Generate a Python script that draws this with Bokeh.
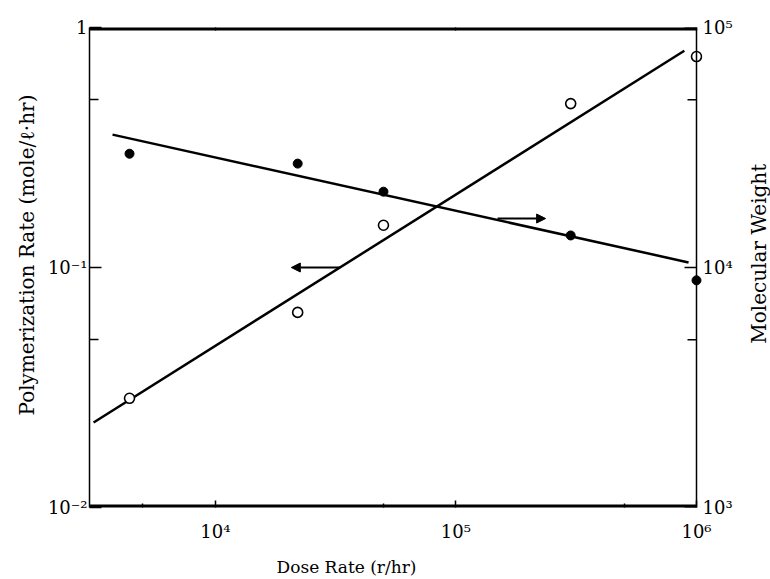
import math
from bokeh.plotting import figure
from bokeh.layouts import row, column
from bokeh.models import Range1d, LogAxis, FixedTicker, Arrow, NormalHead, Title, Span
from bokeh.core.properties import value
from bokeh.embed import file_html
from bokeh.resources import INLINE

# ---------------- data ----------------
dose_rate = [4.4e3, 2.2e4, 5.0e4, 3.0e5, 1.0e6]          # r/hr
poly_rate = [0.0285, 0.065, 0.150, 0.482, 0.757]         # mole/l.hr (open circles, left axis)
mol_weight = [29800, 27100, 20700, 13600, 8840]          # (filled circles, right axis)

rate_fit_x = [3.12e3, 8.9e5]
rate_fit_y = [0.0226, 0.80]
mw_fit_x = [3.74e3, 9.27e5]
mw_fit_y = [35800, 10500]

# arrows: (x_start, x_end, y) in left-axis units
arrow_left = [3.31e4, 2.07e4, 0.10]
arrow_right = [1.49e5, 2.36e5, 0.16]

x_ticks = [1e4, 1e5, 1e6]
x_minor = [5e3, 5e4, 5e5]
x_tick_labels = ["10⁴", "10⁵", "10⁶"]
left_ticks = [0.01, 0.1, 1.0]
left_minor = [0.05, 0.5]
left_tick_labels = ["10⁻²", "10⁻¹", "1"]
right_ticks = [1e3, 1e4, 1e5]
right_minor = [5e3, 5e4]
right_tick_labels = ["10³", "10⁴", "10⁵"]

x_title = "Dose Rate (r/hr)"
left_title = "Polymerization Rate (mole/ℓ·hr)"
right_title = "Molecular Weight"

X0, X1 = 3.0e3, 1.0e6          # x extent of the drawn box
Y0, Y1 = 0.01, 1.0
M0, M1 = 1e3, 1e5

# ---------------- layout ----------------
W, H = 770, 579
MAIN_W, MAIN_H = 744, 556
FL, FT, FB = 89, 27, 507
BOX_R = 696                    # pixel of the right box line (x = X1)
PAD_R = 6                      # frame extends a little past the box so edge markers are not cut
EPS = 1.0005
X_END = 10 ** (math.log10(X1) + PAD_R / (BOX_R - FL) * (math.log10(X1) - math.log10(X0)))
FR = BOX_R + PAD_R
YS, YE = Y0 / EPS, Y1 * EPS

FONT = "DejaVu Serif"

p = figure(width=MAIN_W, height=MAIN_H, output_backend="svg", toolbar_location=None,
           x_axis_type="log", y_axis_type="log",
           x_range=Range1d(X0, X_END), y_range=Range1d(YS, YE),
           min_border_left=FL, min_border_right=MAIN_W - FR,
           min_border_top=FT, min_border_bottom=MAIN_H - FB,
           background_fill_color="white", border_fill_color="white")
p.outline_line_color = None
p.grid.visible = False
p.extra_y_ranges = {"mw": Range1d(M0 / EPS, M1 * EPS)}


def style_axis(ax, ticks, minor, labels, lw, major_in, minor_in):
    ax.ticker = FixedTicker(ticks=ticks, minor_ticks=minor)
    ax.major_label_overrides = {t: l for t, l in zip(ticks, labels)}
    ax.axis_line_width = lw
    ax.axis_line_color = "black"
    ax.major_tick_in = major_in
    ax.major_tick_out = 0
    ax.minor_tick_in = minor_in
    ax.minor_tick_out = 0
    ax.major_tick_line_width = 1.5
    ax.minor_tick_line_width = 1.5
    ax.major_tick_line_color = "black"
    ax.minor_tick_line_color = "black"
    ax.major_label_text_font = FONT
    ax.major_label_text_font_size = "18px"
    ax.major_label_text_color = "black"


# bottom axis (its line is drawn below as a segment ending at x = X1)
xa = p.xaxis[0]
style_axis(xa, x_ticks, x_minor, x_tick_labels, 3, 7, 4)
xa.axis_line_color = None
xa.major_label_standoff = 13

# left axis
ya = p.yaxis[0]
style_axis(ya, left_ticks, left_minor, left_tick_labels, 1.5, 12, 9)
ya.major_label_standoff = 2

# right axis (labels only; its line and ticks are drawn at x = X1 below)
ra = LogAxis(y_range_name="mw")
style_axis(ra, right_ticks, right_minor, right_tick_labels, 1.5, 0, 0)
ra.axis_line_color = None
ra.major_tick_line_color = None
ra.minor_tick_line_color = None
ra.major_label_standoff = 0
p.add_layout(ra, "right")

# top axis (small ticks only)
ta = LogAxis()
style_axis(ta, x_ticks, x_minor, ["", "", ""], 3, 3, 0)
ta.axis_line_color = None
ta.major_label_text_font_size = "0px"
p.add_layout(ta, "above")

# left title as a side-panel title (shifted up along the side)
p.add_layout(Title(text=left_title, align="left", offset=92,
                   standoff=11, text_font=FONT, text_font_size="20px",
                   text_font_style="normal", text_color="black"), "left")

# box: thick top and bottom lines ending at X1, thin right line with inward ticks
p.segment(x0=[X0, X0], y0=[YS, YE], x1=[X1, X1], y1=[YS, YE],
          line_color="black", line_width=6)
p.add_layout(Span(location=X1, dimension="height", line_color="black", line_width=1.5))
p.ray(x=[X1] * len(right_ticks), y=right_ticks, length=12, length_units="screen",
      angle=math.pi, line_color="black", line_width=1.5, y_range_name="mw")
p.ray(x=[X1] * len(right_minor), y=right_minor, length=9, length_units="screen",
      angle=math.pi, line_color="black", line_width=1.5, y_range_name="mw")

# ---------------- fitted lines ----------------
p.line(rate_fit_x, rate_fit_y, line_color="black", line_width=2.5)
p.line(mw_fit_x, mw_fit_y, line_color="black", line_width=2.5, y_range_name="mw")

# ---------------- data points ----------------
p.scatter(dose_rate, poly_rate, marker="circle", size=10,
          fill_color="white", line_color="black", line_width=1.6)
p.scatter(dose_rate, mol_weight, marker="circle", size=9,
          fill_color="black", line_color="black", y_range_name="mw")

# ---------------- arrows ----------------
for a in (arrow_left, arrow_right):
    p.add_layout(Arrow(end=NormalHead(size=9, fill_color="black", line_color="black"),
                       x_start=a[0], y_start=a[2], x_end=a[1], y_end=a[2],
                       line_color="black", line_width=2))


# ---------------- strips holding the right and bottom titles ----------------
def strip(w, h):
    s = figure(width=w, height=h, output_backend="svg", toolbar_location=None,
               x_range=Range1d(0, w), y_range=Range1d(h, 0),
               x_axis_location=None, y_axis_location=None,
               min_border=0, background_fill_color="white", border_fill_color="white")
    s.outline_line_color = None
    s.grid.visible = False
    return s


side = strip(W - MAIN_W, MAIN_H)
side.text(x=[758 - MAIN_W], y=[262], text=[right_title], angle=math.pi / 2,
          text_align="center", text_baseline="middle", text_font=value(FONT),
          text_font_size="20px", text_color="black")

bottom = strip(W, H - MAIN_H)
bottom.text(x=[346], y=[566 - MAIN_H], text=[x_title],
            text_align="center", text_baseline="middle", text_font=value(FONT),
            text_font_size="17px", text_color="black")

layout = column(row(p, side, spacing=0), bottom, spacing=0)

open("out.html", "w").write(file_html(layout, INLINE))
